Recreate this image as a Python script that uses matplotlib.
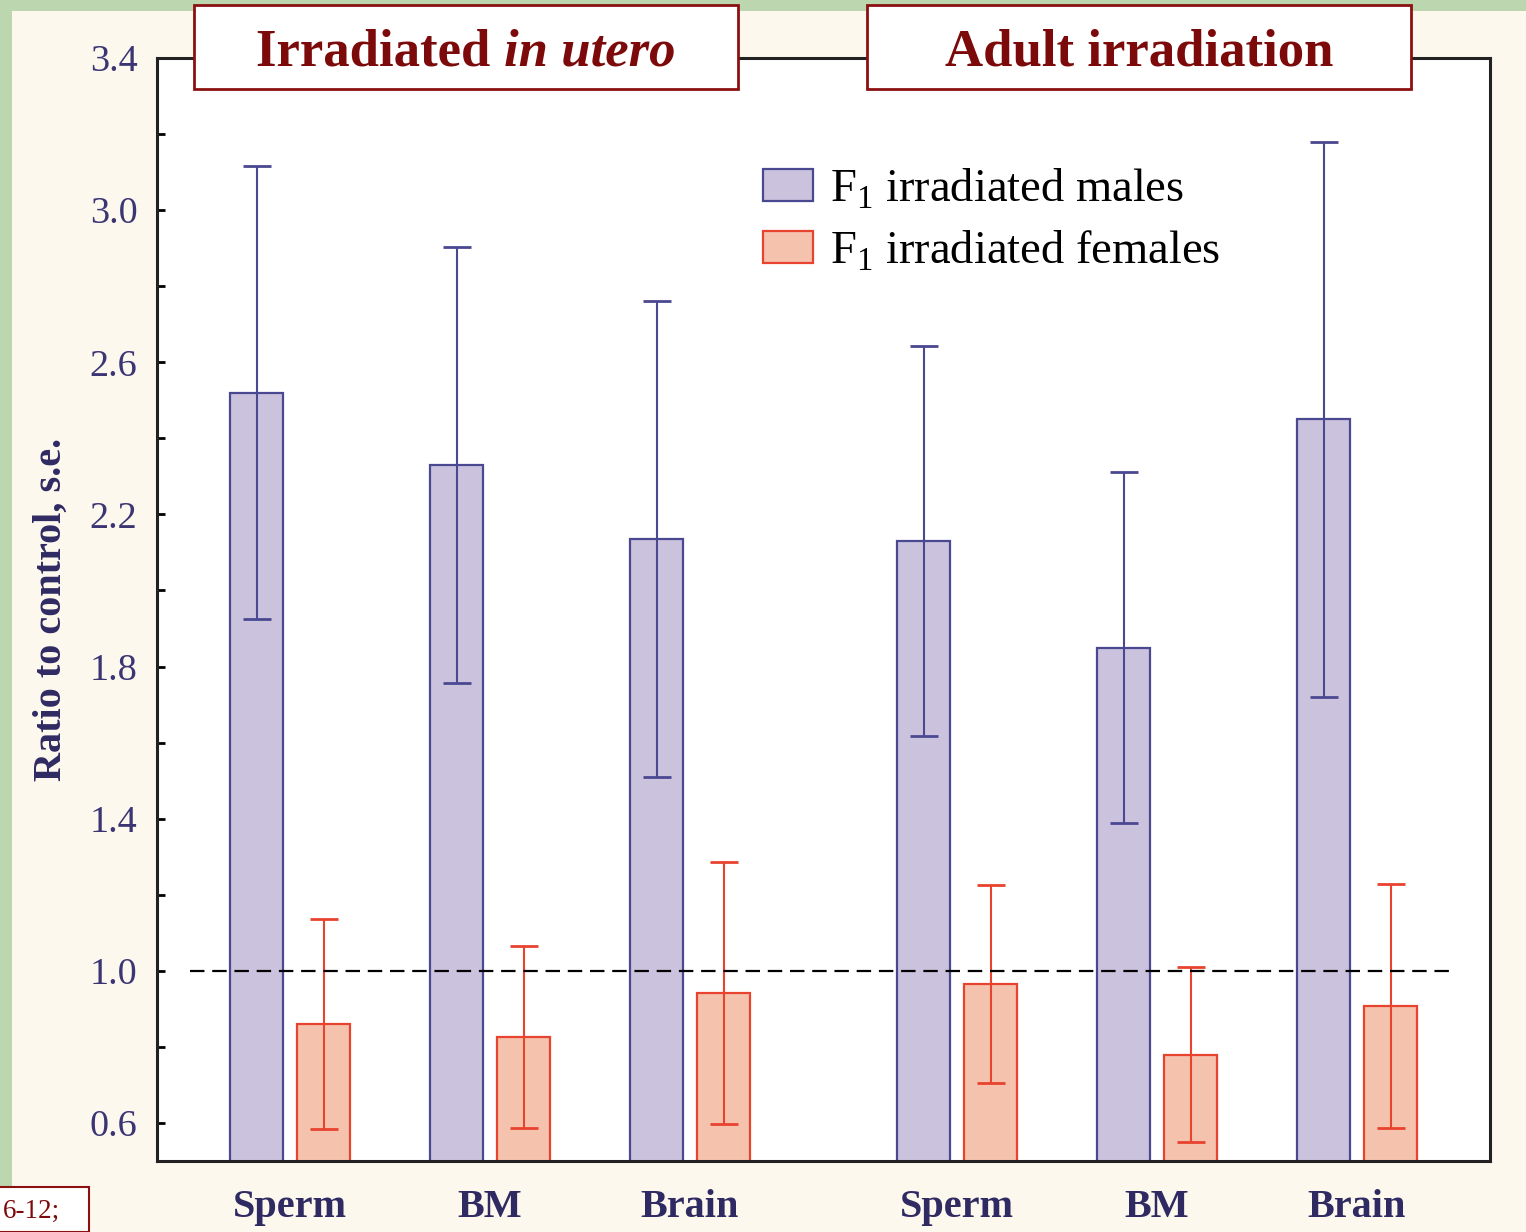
import matplotlib.pyplot as plt
import matplotlib.patches as mpatches
import numpy as np

plt.rcParams['font.family'] = 'Liberation Serif'
plt.rcParams['mathtext.fontset'] = 'custom'
plt.rcParams['mathtext.rm'] = 'Liberation Serif'

tissues = ['Sperm', 'BM', 'Brain', 'Sperm', 'BM', 'Brain']

males = [2.52, 2.33, 2.135, 2.13, 1.85, 2.45]
males_err = [0.595, 0.573, 0.625, 0.512, 0.461, 0.73]
females = [0.86, 0.826, 0.942, 0.965, 0.779, 0.908]
females_err = [0.276, 0.238, 0.345, 0.26, 0.23, 0.32]

male_face, male_edge = '#cbc3de', '#4b4892'
fem_face, fem_edge = '#f5c3ad', '#e8432f'
navy = '#2f2a62'
dark_red = '#7d0a0a'

W, H = 1526, 1232
fig = plt.figure(figsize=(W / 100, H / 100), dpi=100)
fig.patch.set_facecolor('#bcd6b0')
fig.patches.append(mpatches.Rectangle((12/W, 0), 1, 1 - 11/H, transform=fig.transFigure,
                                      facecolor='#fcf8ee', edgecolor='none', zorder=-1))

ax = fig.add_axes([157/W, 1 - 1161/H, 1333/W, 1103/H])
ax.set_zorder(1)
ax.set_facecolor('white')

# group centres, with a wider gap between the two experiments
x = np.array([0, 1, 2, 3.335, 4.335, 5.335])
w = 0.265
off = 0.335 / 2

ax.bar(x - off, males, w, color=male_face, edgecolor=male_edge, linewidth=1.6,
       label=r'F$_{\mathrm{1}}$ irradiated males', zorder=2)
ax.bar(x + off, females, w, color=fem_face, edgecolor=fem_edge, linewidth=1.6,
       label=r'F$_{\mathrm{1}}$ irradiated females', zorder=2)
ax.errorbar(x - off, males, yerr=males_err, fmt='none', ecolor=male_edge,
            elinewidth=1.5, capsize=10, capthick=2, zorder=3)
ax.errorbar(x + off, females, yerr=females_err, fmt='none', ecolor=fem_edge,
            elinewidth=1.5, capsize=10, capthick=2, zorder=3)

ax.plot([-0.5, 5.825], [1.0, 1.0], color='black', lw=1.6, ls=(0, (6.5, 3.5)), zorder=4)

ax.set_xlim(-0.665, 6.0)
ax.set_ylim(0.5, 3.4)
major = np.arange(0.6, 3.41, 0.4)
ax.set_yticks(major)
ax.set_yticks(np.arange(0.6, 3.41, 0.2), minor=True)
ax.set_yticklabels([f'{v:.1f}' for v in major])
ax.set_xticks(x)
ax.set_xticklabels(tissues, fontsize=29, fontweight='bold', color=navy)
ax.tick_params(axis='x', length=0, pad=20)
ax.tick_params(axis='y', which='both', direction='in', length=6, width=2,
               labelsize=27.5, labelcolor='#3b3673', pad=14)
for s in ax.spines.values():
    s.set_linewidth(2.2)
    s.set_color('#222222')

ax.set_ylabel('Ratio to control, s.e.', fontsize=29, fontweight='bold', color=navy, labelpad=14)

ax.legend(loc='upper left', bbox_to_anchor=(0.4546, 0.9012), frameon=False, fontsize=33.5,
          handlelength=1.07, handleheight=0.66, handletextpad=0.38, labelspacing=0.37,
          borderpad=0, borderaxespad=0)

# header boxes over each half
for x0 in (194, 867):
    fig.patches.append(mpatches.Rectangle((x0/W, 1 - 89/H), 544/W, 84/H,
                                          transform=fig.transFigure, facecolor='white',
                                          edgecolor='#8b1010', linewidth=2, zorder=5))
cy = 1 - 52/H
cx1 = (194 + 738) / 2 / W
t1 = fig.text(cx1, cy, 'Irradiated ', fontsize=38, fontweight='bold', color=dark_red,
              ha='right', va='center', zorder=6)
t2 = fig.text(cx1, cy, 'in utero', fontsize=38, fontweight='bold', style='italic',
              color=dark_red, ha='left', va='center', zorder=6)
fig.canvas.draw()
r = fig.canvas.get_renderer()
shift = (t1.get_window_extent(r).width - t2.get_window_extent(r).width) / 2 / W
t1.set_x(cx1 + shift)
t2.set_x(cx1 + shift)
fig.text((867 + 1411) / 2 / W, cy, 'Adult irradiation', fontsize=38, fontweight='bold',
         color=dark_red, ha='center', va='center', zorder=6)

# slide reference in the corner
fig.patches.append(mpatches.Rectangle((-0.01, 0), 89/W + 0.01, 45/H, transform=fig.transFigure,
                                      facecolor='white', edgecolor='#8b1010', linewidth=1.5, zorder=5))
fig.text(3/W, 21/H, '6-12;', fontsize=19.5, color=dark_red, va='center', ha='left', zorder=6)

plt.savefig('out.png', dpi=100, facecolor=fig.get_facecolor())
